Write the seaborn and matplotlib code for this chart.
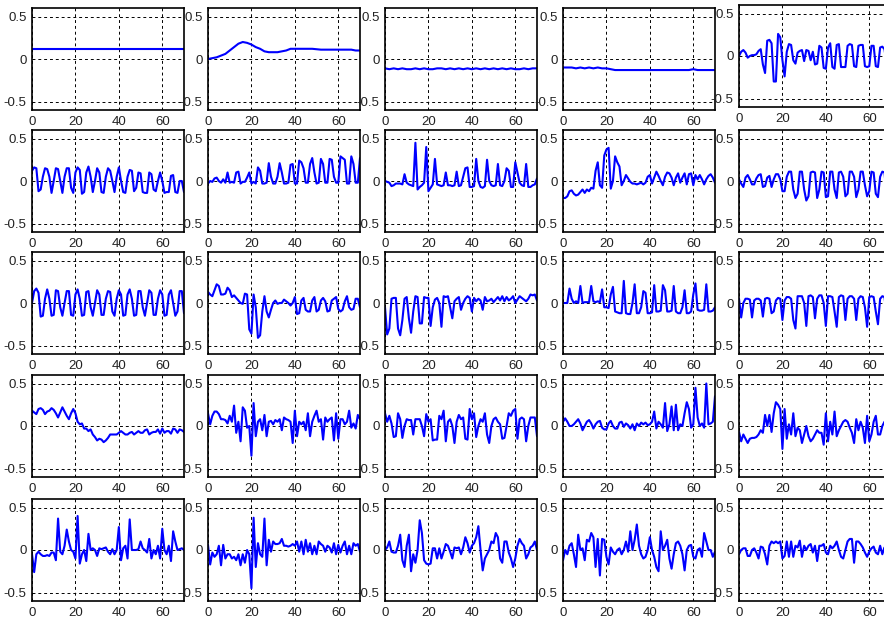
import numpy as np
import matplotlib
matplotlib.use('Agg')
import matplotlib.pyplot as plt
import seaborn as sns

sns.set_theme(style='white')
plt.rcParams['font.family'] = ['Liberation Sans', 'DejaVu Sans']

# 每个子图的数据（横轴 0..70 等间距采样）
s11 = [0.12, 0.12]
s12 = [0.00, 0.01, 0.02, 0.04, 0.06, 0.10, 0.14, 0.18, 0.20, 0.19, 0.17, 0.14,
       0.12, 0.09, 0.08, 0.08, 0.08, 0.09, 0.10, 0.12, 0.12, 0.12, 0.12, 0.12,
       0.12, 0.115, 0.11, 0.11, 0.11, 0.11, 0.11, 0.11, 0.11, 0.11, 0.10, 0.10]
s13 = [-0.11, -0.12, -0.11, -0.12, -0.11, -0.12, -0.12, -0.11, -0.12, -0.11, -0.12, -0.12,
       -0.11, -0.11, -0.12, -0.11, -0.12, -0.11, -0.12, -0.11, -0.12, -0.11, -0.12, -0.11,
       -0.12, -0.11, -0.12, -0.11, -0.12, -0.11, -0.12, -0.12, -0.11, -0.12, -0.11, -0.11]
s14 = [-0.10, -0.10, -0.10, -0.11, -0.10, -0.11, -0.10, -0.11, -0.10, -0.11, -0.11, -0.12,
       -0.13, -0.13, -0.13, -0.13, -0.13, -0.13, -0.13, -0.13, -0.13, -0.13, -0.13, -0.13,
       -0.13, -0.13, -0.13, -0.13, -0.13, -0.13, -0.12, -0.13, -0.13, -0.13, -0.13, -0.13]
s15 = [0.00, 0.05, 0.07, 0.04, -0.02, 0.00, 0.01, 0.01, 0.02, 0.06, 0.08, -0.10, -0.20, 0.18,
       0.19, 0.15, -0.30, -0.30, 0.26, 0.22, -0.05, -0.24, 0.05, 0.14, 0.13, -0.05, -0.09, 0.04,
       0.06, 0.07, -0.06, 0.07, 0.06, -0.05, 0.05, -0.10, -0.09, 0.12, 0.10, -0.14, -0.15, 0.10,
       0.15, -0.13, -0.15, 0.13, 0.14, -0.13, -0.13, -0.13, 0.12, 0.14, 0.13, -0.12, -0.13, 0.12,
       0.13, 0.13, -0.12, -0.13, -0.12, 0.12, 0.12, -0.12, -0.13, 0.10, 0.11, 0.08, -0.10, 0.08,
       0.10]

s21 = [0.12, 0.16, 0.15, -0.12, -0.10, 0.05, 0.15, 0.14, 0.05, -0.14, 0.00, 0.15, 0.14, 0.00,
       -0.14, 0.05, 0.15, 0.15, -0.08, -0.14, 0.10, 0.16, 0.13, -0.15, -0.13, 0.10, 0.17, 0.05,
       -0.13, 0.00, 0.15, 0.10, -0.13, -0.14, 0.05, 0.15, 0.12, 0.00, -0.13, 0.05, 0.16, 0.00,
       -0.13, -0.14, 0.05, 0.13, 0.12, -0.12, -0.08, 0.10, 0.09, -0.13, -0.14, -0.14, 0.10, 0.08,
       -0.10, -0.12, 0.00, 0.10, 0.00, -0.14, -0.13, -0.13, 0.06, 0.07, -0.13, -0.14, 0.00, 0.00,
       -0.13]
s22 = [-0.03, 0.00, -0.01, 0.03, 0.04, 0.00, -0.02, 0.02, -0.02, 0.10, -0.02, -0.01, -0.02, 0.10,
       0.11, -0.03, -0.01, -0.01, 0.04, 0.10, -0.03, -0.01, -0.03, 0.16, 0.12, -0.03, -0.03, -0.02,
       0.21, 0.05, -0.03, -0.03, 0.05, 0.21, 0.10, -0.03, -0.03, -0.02, 0.19, 0.20, -0.03, -0.03,
       0.24, 0.22, 0.15, -0.02, -0.02, 0.20, 0.27, 0.10, -0.03, -0.02, 0.26, 0.20, -0.02, -0.02,
       0.26, 0.25, 0.05, -0.02, -0.02, 0.29, 0.27, 0.25, -0.03, -0.03, 0.29, 0.20, -0.02, -0.02,
       0.27]
s23 = [0.00, -0.01, -0.02, -0.06, -0.05, -0.03, -0.03, -0.03, -0.04, 0.08, -0.02, -0.04, -0.05,
       -0.06, 0.45, -0.10, -0.07, -0.05, -0.02, 0.40, -0.12, -0.08, -0.04, 0.26, -0.04, -0.05,
       -0.06, -0.05, 0.10, -0.05, -0.05, -0.06, -0.05, 0.11, -0.06, -0.05, 0.05, 0.15, 0.16, -0.07,
       -0.07, -0.06, 0.26, 0.00, -0.07, -0.08, -0.06, 0.25, 0.00, -0.05, -0.06, -0.05, 0.20, -0.05,
       -0.06, 0.00, 0.15, 0.12, -0.07, -0.07, 0.22, 0.10, -0.02, -0.05, -0.06, 0.20, -0.07, -0.07,
       -0.05, -0.04, 0.03]
s24 = [-0.20, -0.20, -0.18, -0.12, -0.11, -0.15, -0.17, -0.16, -0.13, -0.10, -0.14, -0.10, -0.12,
       -0.08, -0.09, 0.12, 0.22, -0.05, -0.08, 0.30, 0.37, 0.39, -0.09, 0.00, 0.29, 0.22, 0.17,
       -0.05, 0.00, 0.07, 0.03, -0.01, -0.03, -0.03, -0.04, -0.03, -0.02, -0.04, -0.02, 0.05, 0.07,
       -0.03, 0.04, 0.11, 0.06, 0.00, -0.05, 0.05, 0.10, 0.09, 0.04, -0.05, 0.04, 0.09, -0.02, 0.04,
       0.09, -0.04, 0.08, 0.09, -0.05, 0.07, 0.02, 0.07, 0.02, -0.04, 0.02, 0.06, 0.08, 0.04, -0.02]
s25 = [0.02, -0.03, -0.07, 0.04, 0.07, 0.02, -0.04, -0.04, 0.03, 0.07, 0.08, -0.07, -0.06, 0.04,
       0.06, -0.07, 0.02, 0.08, 0.08, 0.02, -0.12, -0.12, 0.05, 0.11, 0.11, -0.10, -0.20, -0.15,
       0.11, 0.11, -0.10, -0.23, -0.18, 0.10, 0.11, 0.10, -0.20, -0.10, 0.11, 0.10, -0.19, -0.18,
       0.11, 0.11, -0.10, -0.20, 0.10, 0.11, 0.05, -0.18, -0.15, 0.11, 0.11, 0.05, -0.19, -0.10,
       0.11, 0.11, -0.05, -0.18, -0.12, 0.11, 0.10, -0.15, -0.19, 0.05, 0.11, 0.10, -0.18, -0.05,
       0.10]

s31 = [0.00, 0.14, 0.17, 0.12, -0.16, -0.15, 0.05, 0.16, 0.05, -0.15, -0.14, 0.15, 0.14, -0.05,
       -0.15, 0.00, 0.14, 0.14, -0.14, -0.15, 0.10, 0.16, 0.05, -0.15, -0.14, 0.13, 0.14, -0.05,
       -0.15, 0.00, 0.15, 0.10, -0.14, -0.14, 0.05, 0.14, 0.13, -0.10, -0.15, 0.05, 0.15, 0.10,
       -0.15, -0.14, 0.10, 0.16, 0.05, -0.15, -0.14, 0.14, 0.14, -0.05, -0.15, 0.00, 0.15, 0.12,
       -0.14, -0.14, 0.05, 0.15, 0.10, -0.15, -0.14, 0.10, 0.15, 0.00, -0.15, -0.10, 0.14, 0.14,
       -0.12]
s32 = [0.13, 0.10, 0.08, 0.15, 0.22, 0.20, 0.10, 0.10, 0.11, 0.18, 0.15, 0.07, 0.09, 0.06, 0.03,
       0.00, -0.01, 0.11, 0.10, -0.31, -0.36, 0.10, -0.05, -0.41, -0.38, -0.10, 0.08, -0.10, -0.17,
       -0.08, 0.00, 0.03, -0.01, 0.00, 0.00, 0.04, 0.02, 0.00, -0.03, 0.00, 0.07, -0.13, -0.12,
       0.03, 0.06, -0.08, -0.10, -0.10, 0.03, 0.07, -0.10, -0.08, 0.03, 0.06, 0.02, -0.10, -0.09,
       0.03, 0.05, 0.07, -0.07, -0.10, -0.08, 0.02, 0.08, -0.05, -0.08, -0.07, 0.05, 0.05, -0.05]
s33 = [-0.05, -0.37, -0.30, 0.05, 0.06, 0.06, -0.30, -0.38, -0.20, 0.05, 0.07, -0.18, -0.35,
       -0.10, 0.08, 0.07, -0.24, -0.24, 0.07, 0.06, 0.06, -0.27, -0.05, 0.04, 0.06, 0.00, -0.28,
       0.08, 0.07, 0.08, -0.05, -0.18, 0.02, 0.05, 0.07, -0.08, 0.00, 0.05, 0.08, 0.06, -0.10, 0.06,
       0.02, 0.05, 0.03, -0.08, 0.07, 0.02, 0.03, 0.05, 0.01, 0.04, 0.07, 0.03, 0.08, 0.02, 0.07,
       0.03, 0.05, 0.08, 0.00, 0.04, 0.08, 0.06, 0.04, 0.02, 0.05, 0.10, 0.09, 0.10, 0.03]
s34 = [0.00, 0.00, 0.00, 0.17, 0.05, 0.00, 0.02, 0.00, 0.20, 0.00, 0.01, 0.01, 0.01, 0.20, 0.02,
       0.01, 0.02, 0.01, 0.16, -0.05, -0.05, -0.06, 0.10, 0.19, -0.10, -0.11, -0.12, -0.12, 0.26,
       -0.12, -0.13, -0.13, 0.00, 0.22, -0.12, -0.12, -0.05, 0.14, 0.12, -0.12, -0.12, -0.11, 0.21,
       -0.10, -0.10, -0.09, 0.21, 0.15, -0.10, -0.10, -0.09, 0.20, -0.10, -0.12, -0.12, -0.05, 0.15,
       -0.12, -0.12, -0.10, 0.10, 0.23, -0.08, -0.09, -0.09, -0.08, 0.22, -0.10, -0.10, -0.09, -0.05]
s35 = [0.05, -0.17, 0.00, 0.05, 0.05, 0.04, -0.17, 0.03, 0.05, 0.05, 0.03, -0.16, 0.05, 0.06,
       0.05, -0.12, -0.10, 0.03, 0.06, 0.05, -0.20, 0.03, 0.07, 0.07, 0.05, -0.20, -0.30, 0.08,
       0.08, 0.08, 0.00, -0.27, 0.08, 0.09, 0.07, -0.18, 0.05, 0.09, 0.09, 0.00, -0.27, 0.08, 0.08,
       0.07, -0.10, -0.28, 0.07, 0.09, 0.08, -0.20, 0.05, 0.08, 0.08, 0.05, -0.20, 0.05, 0.08, 0.07,
       -0.05, -0.28, 0.07, 0.08, 0.07, -0.10, -0.25, 0.05, 0.08, 0.07, -0.15, 0.06, -0.15]

s41 = [0.18, 0.16, 0.14, 0.20, 0.21, 0.19, 0.14, 0.17, 0.18, 0.21, 0.19, 0.15, 0.10, 0.16, 0.22,
       0.17, 0.12, 0.08, 0.15, 0.20, 0.15, 0.05, 0.02, 0.03, -0.03, -0.03, -0.06, -0.04, -0.10,
       -0.13, -0.17, -0.15, -0.16, -0.19, -0.17, -0.14, -0.10, -0.10, -0.10, -0.10, -0.08, -0.06,
       -0.08, -0.10, -0.10, -0.08, -0.07, -0.10, -0.08, -0.06, -0.08, -0.08, -0.05, -0.04, -0.10,
       -0.08, -0.07, -0.07, -0.04, -0.09, -0.03, -0.08, -0.06, -0.06, -0.09, -0.03, -0.04, -0.08,
       -0.04, -0.05, -0.07]
s42 = [0.15, 0.02, 0.12, 0.17, 0.17, 0.14, 0.08, 0.08, 0.07, 0.03, 0.12, 0.05, 0.24, -0.08, 0.05,
       -0.18, 0.22, 0.18, -0.02, 0.00, -0.35, 0.27, -0.12, 0.05, 0.08, -0.05, 0.13, -0.12, 0.05,
       0.06, 0.02, 0.07, 0.05, 0.08, -0.05, 0.10, 0.08, 0.07, 0.05, -0.20, 0.18, -0.12, 0.05, 0.02,
       0.05, -0.05, 0.15, -0.12, 0.05, 0.12, 0.18, 0.05, 0.08, -0.16, 0.10, 0.05, 0.08, 0.10, -0.17,
       0.15, -0.15, 0.08, 0.08, 0.02, 0.05, 0.18, -0.02, 0.03, -0.03, 0.13, 0.08]
s43 = [0.15, 0.05, 0.12, 0.03, -0.13, -0.12, 0.15, 0.08, -0.14, 0.00, 0.08, 0.07, 0.07, -0.10,
       0.08, 0.08, 0.08, 0.00, -0.12, 0.14, 0.05, 0.08, -0.17, -0.16, -0.16, 0.12, 0.08, 0.18,
       -0.18, 0.05, 0.08, 0.00, -0.20, 0.05, 0.13, 0.08, 0.10, -0.15, -0.16, 0.20, 0.08, 0.15,
       -0.13, 0.00, 0.08, 0.05, 0.15, -0.10, -0.20, 0.00, 0.08, 0.10, 0.05, 0.02, -0.15, -0.14,
       0.00, 0.15, 0.12, 0.18, 0.20, -0.15, 0.08, 0.10, 0.08, -0.18, 0.00, 0.10, 0.10, 0.10, -0.12]
s44 = [0.05, 0.09, 0.05, 0.00, 0.00, 0.02, 0.05, 0.08, 0.03, -0.05, 0.00, 0.05, 0.07, 0.03, -0.03,
       0.02, 0.05, 0.06, -0.02, -0.04, -0.04, 0.03, 0.06, 0.00, -0.03, -0.03, 0.04, 0.05, -0.01,
       0.03, 0.01, -0.03, 0.02, -0.05, 0.03, 0.00, 0.04, 0.02, 0.04, 0.01, 0.02, 0.05, 0.17, -0.03,
       0.05, 0.02, -0.02, 0.27, -0.06, 0.02, 0.23, -0.05, 0.25, -0.05, 0.02, 0.00, 0.15, 0.28, 0.20,
       -0.02, 0.02, 0.45, 0.10, 0.00, 0.03, -0.02, 0.50, 0.02, 0.03, 0.05, 0.35]
s45 = [-0.07, -0.18, -0.10, -0.15, -0.20, -0.15, -0.14, -0.14, -0.13, -0.10, -0.05, -0.08, 0.13,
       0.00, 0.13, -0.07, 0.15, 0.28, 0.25, 0.20, -0.27, 0.20, -0.15, 0.02, -0.10, 0.15, -0.12,
       -0.02, -0.05, -0.20, -0.10, 0.00, -0.12, -0.18, -0.15, -0.10, -0.05, -0.08, -0.08, -0.22,
       0.15, -0.18, 0.05, -0.10, 0.17, -0.12, -0.05, 0.00, 0.05, 0.07, 0.05, -0.02, -0.08, -0.20,
       0.08, -0.05, 0.05, -0.02, -0.20, 0.12, -0.18, -0.10, 0.05, 0.12, -0.10, -0.10, 0.00, 0.05,
       0.05, 0.00, 0.03]

s51 = [-0.05, -0.26, -0.05, -0.02, -0.05, -0.07, -0.07, -0.06, -0.07, -0.03, -0.03, -0.12, 0.37,
       -0.02, -0.05, 0.05, 0.24, 0.10, 0.00, -0.02, -0.10, 0.40, -0.16, -0.05, 0.00, -0.13, 0.19,
       0.00, 0.02, 0.00, -0.07, 0.02, 0.01, 0.02, 0.03, -0.02, -0.05, 0.01, -0.05, 0.00, 0.27,
       -0.12, 0.02, 0.05, -0.10, 0.36, 0.00, 0.00, 0.00, 0.01, 0.10, 0.02, 0.00, -0.03, 0.13, -0.10,
       0.00, -0.05, 0.05, -0.10, 0.25, 0.00, -0.05, 0.05, -0.13, 0.22, 0.10, 0.00, 0.01, 0.02, 0.00]
s52 = [0.06, -0.17, -0.03, -0.08, -0.05, 0.05, -0.18, 0.06, -0.10, -0.05, -0.05, -0.10, -0.08,
       -0.12, -0.05, -0.18, -0.05, -0.15, 0.00, -0.05, -0.45, 0.38, -0.20, 0.08, -0.05, -0.08, 0.37,
       -0.18, 0.12, -0.02, 0.10, 0.07, 0.07, 0.08, 0.13, 0.05, 0.05, 0.04, 0.05, 0.07, 0.05, 0.10,
       -0.02, 0.10, -0.05, 0.12, -0.02, 0.08, -0.05, 0.05, -0.05, 0.10, 0.07, 0.05, -0.02, 0.05,
       0.03, -0.03, 0.08, -0.05, 0.06, -0.03, 0.05, 0.10, -0.05, 0.05, -0.05, 0.08, 0.05, 0.07, -0.02]
s53 = [0.00, 0.03, 0.10, -0.02, -0.03, -0.03, 0.05, 0.18, -0.12, -0.20, 0.05, 0.18, -0.25, -0.05,
       -0.15, 0.00, 0.35, 0.20, -0.12, -0.16, -0.17, -0.16, 0.02, 0.02, -0.10, 0.02, -0.10, -0.02,
       0.07, 0.05, -0.02, -0.10, 0.03, 0.02, 0.03, -0.05, 0.03, 0.15, 0.08, -0.03, 0.05, 0.08, 0.15,
       0.28, 0.00, -0.24, -0.10, -0.05, 0.00, 0.10, 0.08, 0.20, 0.15, -0.10, -0.15, 0.10, 0.10,
       -0.03, -0.10, -0.20, -0.10, 0.05, 0.13, 0.08, 0.05, -0.10, -0.05, 0.03, 0.05, 0.10, 0.00]
s54 = [-0.12, 0.00, -0.05, 0.05, 0.08, -0.05, -0.20, 0.18, 0.00, 0.02, -0.12, 0.12, 0.10, 0.20,
       0.15, -0.20, 0.13, -0.30, 0.13, 0.12, -0.08, -0.17, 0.03, -0.02, -0.05, 0.00, 0.02, -0.05,
       0.00, 0.10, -0.02, 0.22, 0.00, 0.12, 0.30, 0.05, -0.05, -0.10, -0.08, 0.00, 0.15, 0.00, -0.08,
       -0.20, -0.25, 0.22, 0.00, 0.05, 0.12, -0.10, -0.22, -0.05, 0.08, 0.10, 0.05, -0.05, -0.24,
       0.00, 0.05, 0.06, -0.08, -0.10, 0.00, 0.02, -0.08, 0.20, 0.10, 0.00, 0.00, -0.08, -0.02]
s55 = [-0.05, 0.00, 0.02, 0.02, -0.07, -0.07, 0.00, 0.02, -0.03, -0.10, 0.04, 0.03, -0.05, -0.17,
       0.05, 0.10, 0.08, 0.10, 0.08, 0.10, -0.10, -0.07, 0.10, -0.08, 0.10, -0.08, 0.05, 0.03, 0.11,
       -0.08, 0.05, 0.00, 0.05, 0.07, -0.03, 0.05, -0.13, 0.05, 0.05, 0.07, -0.03, -0.05, 0.05, 0.02,
       0.05, 0.10, 0.00, -0.08, -0.10, 0.00, 0.10, 0.13, 0.13, -0.15, 0.10, 0.10, 0.07, 0.03, -0.03,
       -0.08, -0.02, 0.02, 0.04, -0.03, -0.05, 0.05, -0.05, 0.03, -0.03, 0.04, 0.05]

panels = [[s11, s12, s13, s14, s15],
          [s21, s22, s23, s24, s25],
          [s31, s32, s33, s34, s35],
          [s41, s42, s43, s44, s45],
          [s51, s52, s53, s54, s55]]

x_ticks = [0, 20, 40, 60]
y_ticks = [-0.5, 0, 0.5]
y_tick_labels = ['-0.5', '0', '0.5']

W, H = 884, 624
fig = plt.figure(figsize=(W / 100, H / 100), dpi=100)

# 子图位置（像素）
col_left = [32, 208, 385, 563, 739]
row_top = [8, 130, 252, 375, 499]
ax_w, ax_h = 152, 102

for r in range(5):
    for c in range(5):
        y = np.array(panels[r][c])
        x = np.linspace(0, 70, len(y))
        top = row_top[r] - 3 if (r == 0 and c == 4) else row_top[r]
        left = col_left[c] / W
        bottom = 1 - (top + ax_h) / H
        ax = fig.add_axes([left, bottom, ax_w / W, ax_h / H])
        sns.lineplot(x=x, y=y, ax=ax, color='#0000ff', linewidth=1.5)
        ax.set_xlim(0, 70)
        ax.set_ylim(-0.6, 0.6)
        ax.set_xticks(x_ticks)
        ax.set_yticks(y_ticks)
        ax.set_yticklabels(y_tick_labels)
        ax.set_xlabel('')
        ax.set_ylabel('')
        ax.grid(True, color='black', linestyle=(0, (3, 3)), linewidth=0.7)
        ax.tick_params(labelsize=9.5, direction='in', length=3, pad=4,
                       colors='black', labelcolor='#222222')
        for sp in ax.spines.values():
            sp.set_color('black')
            sp.set_linewidth(1.2)

fig.savefig('out.png', dpi=100)
